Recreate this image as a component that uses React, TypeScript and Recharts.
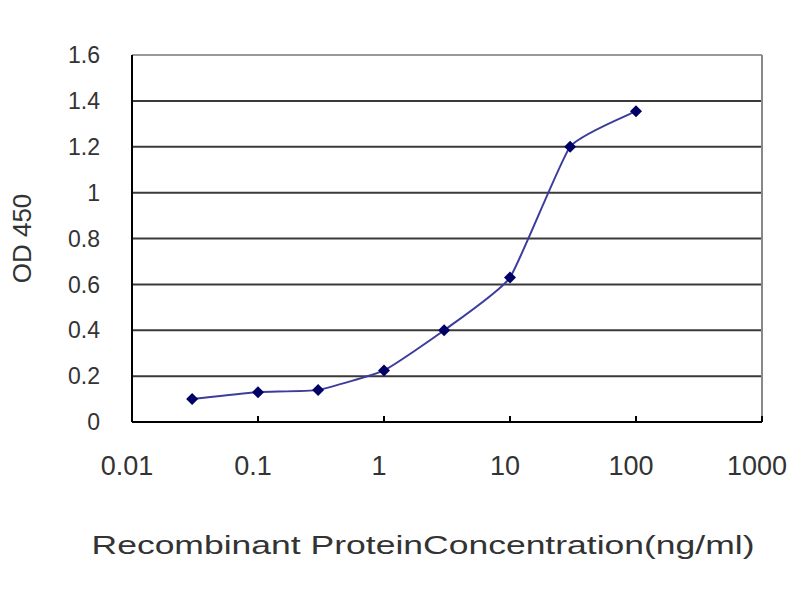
import { LineChart, Line, XAxis, YAxis, ReferenceLine, Label } from "recharts"

// concentrations (ng/ml) and OD 450 readings
const concentrations = [0.03, 0.1, 0.3, 1, 3, 10, 30, 100]
const odValues = [0.1, 0.13, 0.14, 0.225, 0.4, 0.63, 1.2, 1.355]

const xTicks = [0.01, 0.1, 1, 10, 100, 1000]
const yTicks = [0, 0.2, 0.4, 0.6, 0.8, 1, 1.2, 1.4, 1.6]
const gridLines = [0.2, 0.4, 0.6, 0.8, 1, 1.2, 1.4]

const data = concentrations.map((c, i) => ({ conc: c, od: odValues[i] }))

const FONT = "'Liberation Sans', Arial, sans-serif"

// lightly smoothed line, closer to the old Excel look than monotone
const TENSION = 14
function softSmooth(ctx: any) {
  let pts: [number, number][] = []
  return {
    areaStart() {},
    areaEnd() {},
    lineStart() {
      pts = []
    },
    point(x: number, y: number) {
      pts.push([x, y])
    },
    lineEnd() {
      if (!pts.length) return
      ctx.moveTo(pts[0][0], pts[0][1])
      for (let i = 0; i < pts.length - 1; i++) {
        const p0 = pts[Math.max(i - 1, 0)]
        const p1 = pts[i]
        const p2 = pts[i + 1]
        const p3 = pts[Math.min(i + 2, pts.length - 1)]
        ctx.bezierCurveTo(
          p1[0] + (p2[0] - p0[0]) / TENSION,
          p1[1] + (p2[1] - p0[1]) / TENSION,
          p2[0] - (p3[0] - p1[0]) / TENSION,
          p2[1] - (p3[1] - p1[1]) / TENSION,
          p2[0],
          p2[1]
        )
      }
    },
  }
}

function XTick({ x, y, payload }: any) {
  return (
    <g>
      {payload.value > 0.01 && (
        <line x1={x} x2={x} y1={y} y2={y - 6} stroke="#000" strokeWidth={2} />
      )}
      <text
        x={x - 5}
        y={y + 43}
        dy="0.355em"
        textAnchor="middle"
        fontSize={27}
        fontFamily={FONT}
        fill="#333"
      >
        {payload.value}
      </text>
    </g>
  )
}

function Diamond({ cx, cy }: any) {
  if (cx == null || cy == null) return null
  const r = 6
  return (
    <polygon
      points={`${cx},${cy - r} ${cx + r},${cy} ${cx},${cy + r} ${cx - r},${cy}`}
      fill="#000066"
    />
  )
}

export default function App() {
  return (
    <LineChart
      width={792}
      height={584}
      data={data}
      margin={{ top: 47, right: 38, left: 0, bottom: 20 }}
    >
      {gridLines.map((v) => (
        <ReferenceLine key={v} y={v} stroke="#3a3a3a" strokeWidth={2} />
      ))}
      <ReferenceLine y={1.6} stroke="#999" strokeWidth={2} />
      <ReferenceLine x={1000} stroke="#888" strokeWidth={2} />
      <XAxis
        dataKey="conc"
        type="number"
        scale="log"
        domain={[0.01, 1000]}
        ticks={xTicks}
        allowDataOverflow
        height={150}
        tickLine={false}
        tickSize={0}
        tickMargin={0}
        tick={<XTick />}
        stroke="#000"
        strokeWidth={2}
      >
        <Label
          content={({ viewBox }: any) => (
            <text
              x={viewBox.x + viewBox.width / 2 - 24}
              y={viewBox.y + 123}
              dy="0.355em"
              textAnchor="middle"
              fontSize={25}
              fontFamily={FONT}
              fill="#333"
              textLength={663}
              lengthAdjust="spacingAndGlyphs"
            >
              Recombinant ProteinConcentration(ng/ml)
            </text>
          )}
        />
      </XAxis>
      <YAxis
        type="number"
        domain={[0, 1.6]}
        ticks={yTicks}
        width={124}
        tickLine={false}
        tickSize={0}
        tickMargin={32}
        tick={{ fontSize: 23, fontFamily: FONT, fill: "#333" }}
        stroke="#000"
        strokeWidth={2}
      >
        <Label
          content={({ viewBox }: any) => {
            const cx = 14
            const cy = viewBox.y + viewBox.height / 2
            return (
              <text
                x={cx}
                y={cy}
                dy="0.355em"
                textAnchor="middle"
                fontSize={26}
                fontFamily={FONT}
                fill="#333"
                transform={`rotate(-90 ${cx} ${cy})`}
              >
                OD 450
              </text>
            )
          }}
        />
      </YAxis>
      <Line
        type={softSmooth as any}
        dataKey="od"
        stroke="#3c3c9c"
        strokeWidth={2}
        dot={<Diamond />}
        isAnimationActive={false}
      />
    </LineChart>
  )
}
